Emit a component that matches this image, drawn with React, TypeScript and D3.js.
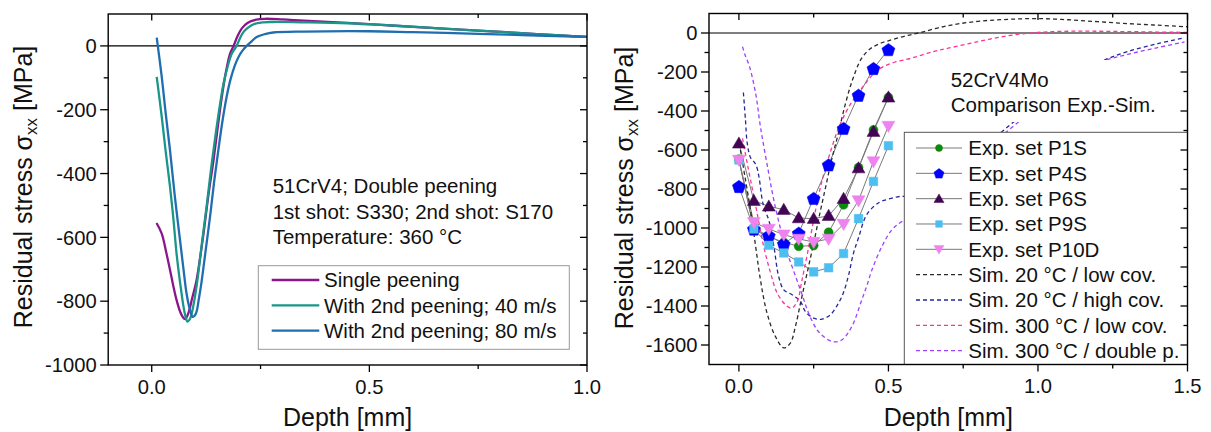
import React from "react";
import * as d3 from "d3";

// ---------- Left panel data (51CrV4, double peening) ----------
const singleX = [0.011,0.023,0.033,0.042,0.05,0.057,0.065,0.071,0.077,0.084,0.093,0.103,0.111,0.119,0.13,0.142,0.151,0.161,0.17,0.18,0.188,0.197,0.207,0.22,0.24,0.26,0.3,0.35,0.45,0.55,0.65,0.75,0.85,0.95,1.0];
const singleY = [-555,-588,-645,-702,-755,-796,-832,-849,-856,-838,-790,-734,-665,-588,-470,-358,-262,-160,-85,-24,0,30,55,72,82,85,83,79,72,64,56,48,40,32,28];

const v40X = [0.0115,0.023,0.032,0.042,0.05,0.057,0.065,0.073,0.078,0.082,0.087,0.092,0.1,0.107,0.116,0.126,0.135,0.145,0.155,0.165,0.175,0.184,0.195,0.203,0.211,0.222,0.234,0.255,0.279,0.35,0.45,0.55,0.65,0.75,0.85,0.95,1.0];
const v40Y = [-97,-222,-330,-441,-545,-650,-740,-817,-850,-864,-858,-838,-780,-713,-610,-504,-400,-295,-200,-118,-62,-24,0,25,44,58,68,74,75,74,71,64,56,48,40,32,28];

const v80X = [0.0115,0.023,0.032,0.042,0.053,0.065,0.073,0.08,0.088,0.094,0.099,0.103,0.108,0.114,0.124,0.134,0.143,0.153,0.162,0.172,0.181,0.191,0.2,0.209,0.218,0.23,0.241,0.26,0.279,0.35,0.5,0.6,0.75,0.85,0.95,1.0];
const v80Y = [26,-97,-210,-327,-470,-609,-700,-776,-828,-849,-845,-833,-795,-744,-640,-535,-430,-327,-240,-160,-105,-61,-33,-14,0,15,28,37,42,45,46,43,38,34,30,28];

const leftNames = ["Single peening", "With 2nd peening; 40 m/s", "With 2nd peening; 80 m/s"];
const leftColors = ["#8B168B", "#1A9688", "#1F6EB0"];
const leftNote = ["51CrV4; Double peening", "1st shot: S330; 2nd shot: S170", "Temperature: 360 °C"];

const leftXMajor = [0, 0.5, 1.0];
const leftXMinor = [0.25, 0.75];
const leftYMajor = [-1000, -800, -600, -400, -200, 0];
const leftYMinor = [-900, -700, -500, -300, -100];

// ---------- Right panel data (52CrV4Mo, exp vs sim) ----------
const expDepth = [0, 0.05, 0.1, 0.15, 0.2, 0.25, 0.3, 0.35, 0.4, 0.45, 0.5];
const expP1S = [-647, -1009, -1046, -1073, -1094, -1090, -1022, -881, -690, -497, -330];
const expP4S = [-787, -1005, -1039, -1082, -1026, -848, -676, -489, -319, -182, -85];
const expP6S = [-566, -860, -889, -906, -949, -952, -937, -850, -693, -506, -330];
const expP9S = [-651, -1005, -1089, -1128, -1174, -1225, -1204, -1131, -952, -761, -578];
const expP10D = [-651, -971, -1005, -1034, -1056, -1072, -1056, -980, -859, -659, -477];

const sim20LowX = [0.005,0.02,0.039,0.056,0.072,0.094,0.122,0.15,0.172,0.189,0.206,0.228,0.25,0.27,0.29,0.31,0.33,0.355,0.38,0.41,0.44,0.47,0.5,0.55,0.6,0.7,0.8,0.9,1.0,1.1,1.2,1.3,1.4,1.5];
const sim20LowY = [-600,-735,-910,-1095,-1266,-1436,-1556,-1615,-1590,-1505,-1385,-1231,-1078,-930,-790,-650,-530,-370,-240,-130,-80,-55,-40,-18,0,38,60,70,74,68,58,48,40,32];

const sim20HighX = [0.015,0.022,0.028,0.039,0.05,0.058,0.067,0.078,0.085,0.1,0.117,0.133,0.15,0.178,0.206,0.222,0.25,0.278,0.306,0.333,0.35,0.367,0.383,0.4,0.428,0.47,0.5,0.53,0.556,0.6,0.7,0.8,0.9,1.0,1.1,1.21,1.3,1.4,1.49];
const sim20HighY = [-305,-447,-566,-640,-660,-680,-737,-856,-900,-960,-1095,-1249,-1317,-1342,-1377,-1428,-1462,-1467,-1445,-1385,-1330,-1240,-1130,-1050,-930,-868,-852,-840,-836,-820,-740,-610,-480,-360,-250,-148,-95,-55,-24];

const sim300LowX = [0.012,0.028,0.045,0.061,0.083,0.106,0.128,0.156,0.176,0.195,0.211,0.228,0.245,0.26,0.275,0.29,0.31,0.33,0.35,0.375,0.4,0.425,0.45,0.48,0.52,0.58,0.65,0.7,0.8,0.9,1.0,1.1,1.2,1.3,1.4,1.5];
const sim300LowY = [-540,-670,-800,-924,-1095,-1231,-1334,-1394,-1411,-1377,-1266,-1140,-1000,-880,-775,-690,-590,-500,-430,-360,-305,-255,-210,-175,-150,-128,-95,-78,-44,-14,3,9,9,7,5,3];

const sim300DblX = [0.012,0.02,0.035,0.056,0.072,0.095,0.12,0.156,0.183,0.211,0.233,0.261,0.289,0.317,0.345,0.378,0.411,0.428,0.445,0.478,0.511,0.545,0.6,0.7,0.8,0.9,1.0,1.1,1.21,1.3,1.4,1.49];
const sim300DblY = [-70,-110,-170,-310,-481,-680,-880,-1100,-1220,-1340,-1436,-1521,-1564,-1584,-1573,-1504,-1368,-1295,-1214,-1095,-1010,-967,-930,-790,-640,-500,-380,-260,-150,-110,-75,-46];

const expNames = ["Exp. set P1S", "Exp. set P4S", "Exp. set P6S", "Exp. set P9S", "Exp. set P10D"];
const expColors = ["#0A8A0A", "#0000FF", "#420554", "#4DBEF0", "#EE82EE"];
const expShapes = ["circle", "pentagon", "triangle", "square", "triangleDown"];
const simNames = ["Sim. 20 °C / low cov.", "Sim. 20 °C / high cov.", "Sim. 300 °C / low cov.", "Sim. 300 °C / double p."];
const simColors = ["#2B2B2B", "#26269A", "#FF3399", "#A040FF"];
const rightNote = ["52CrV4Mo", "Comparison Exp.-Sim."];

const rightXMajor = [0, 0.5, 1.0, 1.5];
const rightXMinor = [0.25, 0.75, 1.25];
const rightYMajor = [-1600, -1400, -1200, -1000, -800, -600, -400, -200, 0];
const rightYMinor = [-1500, -1300, -1100, -900, -700, -500, -300, -100];

const FONT = "'Liberation Sans', Arial, sans-serif";
const TICK_FS = 20.2;
const TITLE_FS = 25;
const TEXT_FS = 20.5;

// ---------- helpers ----------
function markerPath(shape: string, cx: number, cy: number, s: number): string {
  if (shape === "pentagon") {
    const p = d3.path();
    const r = s * 0.62;
    for (let k = 0; k < 5; k++) {
      const a = -Math.PI / 2 + (k * 2 * Math.PI) / 5;
      const px = cx + r * Math.cos(a);
      const py = cy + r * Math.sin(a) + r * 0.1;
      if (k === 0) p.moveTo(px, py);
      else p.lineTo(px, py);
    }
    p.closePath();
    return p.toString();
  }
  let type: any = d3.symbolCircle;
  let size = Math.PI * (s / 2) * (s / 2);
  if (shape === "square") {
    type = d3.symbolSquare;
    size = s * s * 0.9;
  } else if (shape === "triangle" || shape === "triangleDown") {
    type = d3.symbolTriangle;
    size = s * s * 0.6;
  }
  return d3.symbol().type(type).size(size)() as string;
}

function Marker({ shape, cx, cy, s, color }: { shape: string; cx: number; cy: number; s: number; color: string }) {
  if (shape === "pentagon") {
    return <path d={markerPath(shape, cx, cy, s)} fill={color} stroke={color} strokeWidth={0.5} />;
  }
  const rot = shape === "triangleDown" ? " rotate(180)" : "";
  const dy = shape === "triangle" ? 1 : shape === "triangleDown" ? -1 : 0;
  return (
    <path
      d={markerPath(shape, 0, 0, s)}
      transform={`translate(${cx},${cy + dy})${rot}`}
      fill={color}
      stroke={color}
      strokeWidth={0.5}
    />
  );
}

type Scale = d3.ScaleLinear<number, number>;

function Frame({
  x, y, xMajor, xMinor, yMajor, yMinor, xFmt,
}: {
  x: Scale; y: Scale; xMajor: number[]; xMinor: number[]; yMajor: number[]; yMinor: number[]; xFmt: (v: number) => string;
}) {
  const [x0, x1] = x.range();
  const [y0, y1] = y.range(); // y0 bottom, y1 top
  const ticks: React.ReactNode[] = [];
  xMajor.forEach((v, i) => {
    const px = x(v);
    ticks.push(<line key={`xb${i}`} x1={px} x2={px} y1={y0} y2={y0 + 7} stroke="#000" strokeWidth={1.3} />);
    ticks.push(<line key={`xt${i}`} x1={px} x2={px} y1={y1} y2={y1 + 6.5} stroke="#000" strokeWidth={1.3} />);
    ticks.push(
      <text key={`xl${i}`} x={px} y={y0 + 28.5} textAnchor="middle" fontSize={TICK_FS} fontFamily={FONT} fill="#111">
        {xFmt(v)}
      </text>
    );
  });
  xMinor.forEach((v, i) => {
    const px = x(v);
    ticks.push(<line key={`xbm${i}`} x1={px} x2={px} y1={y0} y2={y0 + 4} stroke="#000" strokeWidth={1.3} />);
    ticks.push(<line key={`xtm${i}`} x1={px} x2={px} y1={y1} y2={y1 + 4} stroke="#000" strokeWidth={1.3} />);
  });
  yMajor.forEach((v, i) => {
    const py = y(v);
    ticks.push(<line key={`yl${i}`} x1={x0 - 8} x2={x0} y1={py} y2={py} stroke="#000" strokeWidth={1.3} />);
    ticks.push(<line key={`yr${i}`} x1={x1 - 7} x2={x1} y1={py} y2={py} stroke="#000" strokeWidth={1.3} />);
    ticks.push(
      <text key={`ylab${i}`} x={x0 - 11.5} y={py + 7.2} textAnchor="end" fontSize={TICK_FS} fontFamily={FONT} fill="#111">
        {String(v)}
      </text>
    );
  });
  yMinor.forEach((v, i) => {
    const py = y(v);
    ticks.push(<line key={`ylm${i}`} x1={x0 - 4.5} x2={x0} y1={py} y2={py} stroke="#000" strokeWidth={1.3} />);
    ticks.push(<line key={`yrm${i}`} x1={x1 - 4} x2={x1} y1={py} y2={py} stroke="#000" strokeWidth={1.3} />);
  });
  return (
    <g>
      <rect x={x0} y={y1} width={x1 - x0} height={y0 - y1} fill="none" stroke="#000" strokeWidth={1.4} />
      {ticks}
    </g>
  );
}

function YTitle({ x, y }: { x: number; y: number }) {
  return (
    <text transform={`translate(${x},${y}) rotate(-90)`} textAnchor="middle" fontSize={TITLE_FS} fontFamily={FONT} fill="#111">
      Residual stress σ
      <tspan fontSize={17} dy={5}>xx</tspan>
      <tspan dy={-5}> [MPa]</tspan>
    </text>
  );
}

export default function App() {
  const lx = d3.scaleLinear().domain([-0.1, 1.0]).range([108.2, 587]);
  const ly = d3.scaleLinear().domain([-1000, 100]).range([365, 14]);
  const rx = d3.scaleLinear().domain([-0.1, 1.5]).range([709, 1187.5]);
  const ry = d3.scaleLinear().domain([-1700, 100]).range([364.5, 13.5]);

  const leftSeries = [
    { xs: singleX, ys: singleY },
    { xs: v40X, ys: v40Y },
    { xs: v80X, ys: v80Y },
  ];
  const lineL = d3
    .line<[number, number]>()
    .x((d) => lx(d[0]))
    .y((d) => ly(d[1]))
    .curve(d3.curveCatmullRom.alpha(0.5));

  const expSets = [expP1S, expP4S, expP6S, expP9S, expP10D];
  const simSets = [
    { xs: sim20LowX, ys: sim20LowY },
    { xs: sim20HighX, ys: sim20HighY },
    { xs: sim300LowX, ys: sim300LowY },
    { xs: sim300DblX, ys: sim300DblY },
  ];
  const lineR = d3
    .line<[number, number]>()
    .x((d) => rx(d[0]))
    .y((d) => ry(d[1]))
    .curve(d3.curveCatmullRom.alpha(0.5));
  const lineRLin = d3
    .line<[number, number]>()
    .x((d) => rx(d[0]))
    .y((d) => ry(d[1]));

  const fmt1 = d3.format(".1f");

  const lLeg = { x: 258.3, y: 265.7, w: 311, h: 83.6, row0: 280, step: 25.35 };
  const rLeg = { x: 904.3, y: 132.3, w: 283.2, h: 232.2, row0: 148, step: 25.33 };

  return (
    <svg
      width={1211}
      height={432}
      viewBox="0 0 1211 432"
      style={{ position: "absolute", left: 0, top: 0, background: "#fff" }}
    >
      <defs>
        <clipPath id="clipL">
          <rect x={108.2} y={14} width={587 - 108.2} height={351} />
        </clipPath>
        <clipPath id="clipR">
          <rect x={709} y={13.5} width={1187.5 - 709} height={351} />
        </clipPath>
      </defs>
      <rect x={0} y={0} width={1211} height={432} fill="#fff" />

      {/* ---------------- LEFT PANEL ---------------- */}
      <g clipPath="url(#clipL)">
        <line x1={lx(-0.1)} x2={lx(1.0)} y1={ly(0)} y2={ly(0)} stroke="#000" strokeWidth={1.2} />
        {leftSeries.map((s, i) => (
          <path
            key={i}
            d={lineL(s.xs.map((v, k) => [v, s.ys[k]] as [number, number])) as string}
            fill="none"
            stroke={leftColors[i]}
            strokeWidth={2.3}
            strokeLinejoin="round"
          />
        ))}
      </g>
      {leftNote.map((t, i) => (
        <text key={i} x={272.7} y={193.3 + i * 25.3} fontSize={TEXT_FS} fontFamily={FONT} fill="#111">
          {t}
        </text>
      ))}
      <rect x={lLeg.x} y={lLeg.y} width={lLeg.w} height={lLeg.h} fill="#fff" stroke="#999" strokeWidth={1} />
      {leftNames.map((n, i) => {
        const yy = lLeg.row0 + i * lLeg.step;
        return (
          <g key={i}>
            <line x1={271.7} x2={319.3} y1={yy} y2={yy} stroke={leftColors[i]} strokeWidth={2.3} />
            <text x={324} y={yy + 7.3} fontSize={TEXT_FS} fontFamily={FONT} fill="#111">
              {n}
            </text>
          </g>
        );
      })}
      <Frame x={lx} y={ly} xMajor={leftXMajor} xMinor={leftXMinor} yMajor={leftYMajor} yMinor={leftYMinor} xFmt={(v) => fmt1(v)} />
      <YTitle x={31.5} y={187} />
      <text x={(108.2 + 587) / 2} y={426} textAnchor="middle" fontSize={TITLE_FS} fontFamily={FONT} fill="#111">
        Depth [mm]
      </text>

      {/* ---------------- RIGHT PANEL ---------------- */}
      <g clipPath="url(#clipR)">
        <line x1={rx(-0.1)} x2={rx(1.5)} y1={ry(0)} y2={ry(0)} stroke="#000" strokeWidth={1.2} />
        {expSets.map((ys, i) => (
          <path
            key={`el${i}`}
            d={lineRLin(expDepth.map((v, k) => [v, ys[k]] as [number, number])) as string}
            fill="none"
            stroke="#7A7A7A"
            strokeWidth={1}
          />
        ))}
        {simSets.map((s, i) => (
          <path
            key={`sl${i}`}
            d={lineR(s.xs.map((v, k) => [v, s.ys[k]] as [number, number])) as string}
            fill="none"
            stroke={simColors[i]}
            strokeWidth={1.3}
            strokeDasharray="4,3"
          />
        ))}
        {expSets.map((ys, i) => (
          <g key={`em${i}`}>
            {expDepth.map((v, k) => (
              <Marker key={k} shape={expShapes[i]} cx={rx(v)} cy={ry(ys[k])} s={i === 0 ? 9 : i === 3 ? 9 : 11} color={expColors[i]} />
            ))}
          </g>
        ))}
      </g>
      {/* annotation box (white background hides lines) */}
      <rect x={945} y={60} width={1187.5 - 945 - 0.7} height={62} fill="#fff" />
      {rightNote.map((t, i) => (
        <text key={i} x={950.7} y={87.3 + i * 24.4} fontSize={TEXT_FS} fontFamily={FONT} fill="#111">
          {t}
        </text>
      ))}
      <rect x={rLeg.x} y={rLeg.y} width={rLeg.w} height={rLeg.h} fill="#fff" stroke="#555" strokeWidth={1} />
      {expNames.map((n, i) => {
        const yy = rLeg.row0 + i * rLeg.step;
        return (
          <g key={`le${i}`}>
            <line x1={916} x2={962} y1={yy} y2={yy} stroke="#7A7A7A" strokeWidth={1} />
            <Marker shape={expShapes[i]} cx={939} cy={yy} s={i === 0 || i === 3 ? 7 : 8.5} color={expColors[i]} />
            <text x={968.3} y={yy + 7.3} fontSize={TEXT_FS} fontFamily={FONT} fill="#111">
              {n}
            </text>
          </g>
        );
      })}
      {simNames.map((n, i) => {
        const yy = rLeg.row0 + (i + 5) * rLeg.step;
        return (
          <g key={`ls${i}`}>
            <line x1={916} x2={962} y1={yy} y2={yy} stroke={simColors[i]} strokeWidth={1.3} strokeDasharray="4,3" />
            <text x={968.3} y={yy + 7.3} fontSize={TEXT_FS} fontFamily={FONT} fill="#111">
              {n}
            </text>
          </g>
        );
      })}
      <Frame x={rx} y={ry} xMajor={rightXMajor} xMinor={rightXMinor} yMajor={rightYMajor} yMinor={rightYMinor} xFmt={(v) => fmt1(v)} />
      <YTitle x={632.5} y={188} />
      <text x={(709 + 1187.5) / 2} y={426} textAnchor="middle" fontSize={TITLE_FS} fontFamily={FONT} fill="#111">
        Depth [mm]
      </text>
    </svg>
  );
}
